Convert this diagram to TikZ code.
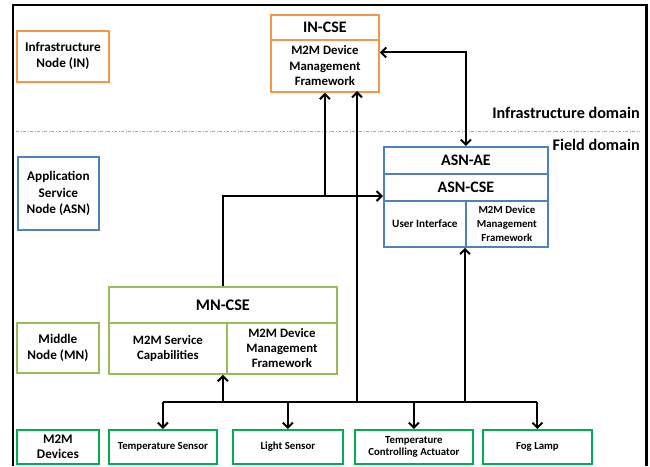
\documentclass[tikz,border=0pt]{standalone}
\usepackage{fontspec}
\setmainfont{Carlito}
\usetikzlibrary{arrows.meta,calc}
\definecolor{cOr}{HTML}{F79646}
\definecolor{cBl}{HTML}{4F81BD}
\definecolor{cLg}{HTML}{9BBB59}
\definecolor{cGr}{HTML}{00B050}
\newcommand\myfs[2]{\fontsize{#1}{#2}\selectfont}
\begin{document}
\begin{tikzpicture}[x=1pt,y=-1pt,
  bx/.style={draw, line width=1.8pt, inner sep=0pt, align=center, anchor=north west, font=\bfseries},
  conn/.style={line width=2pt, black},
  arr/.style={conn, -{Straight Barb[length=5pt,width=10pt]}},
  darr/.style={conn, {Straight Barb[length=5pt,width=10pt]}-{Straight Barb[length=5pt,width=10pt]}},
]
\useasboundingbox (0,0) rectangle (650,466);
% outer frame
\draw[line width=2.5pt] (13,466) -- (13,5) -- (646.5,5) -- (646.5,466);
% domain separator
\draw[gray!70, line width=0.7pt, dash pattern=on 3pt off 1.5pt on 1pt off 1.5pt] (16,131) -- (640,131);
\node[anchor=east, inner sep=0pt, font=\bfseries\myfs{16.2}{18}] (infdom) at (640,113) {Infrastructure domain};
\node[anchor=east, inner sep=0pt, font=\bfseries\myfs{16.2}{18}] (flddom) at (640,145) {Field domain};

% left legend boxes
\node[bx, draw=cOr, minimum width=92pt, minimum height=51pt, font=\bfseries\myfs{13.2}{16}] (lin) at (16,30) {Infrastructure\\Node (IN)};
\node[bx, draw=cBl, minimum width=81pt, minimum height=73pt, font=\bfseries\myfs{13.2}{16.3}] (lasn) at (17,156) {Application\\Service\\Node (ASN)};
\node[bx, draw=cLg, minimum width=82pt, minimum height=50pt, font=\bfseries\myfs{13.2}{16}] (lmn) at (16,322) {Middle\\Node (MN)};
\node[bx, draw=cGr, minimum width=82pt, minimum height=34pt, font=\bfseries\myfs{13.2}{15.5}] (ldev) at (16,429) {M2M\\Devices};

% IN-CSE
\node[bx, draw=cOr, minimum width=108pt, minimum height=25pt, font=\bfseries\myfs{16}{18}] (incset) at (270,14) {IN-CSE};
\node[bx, draw=cOr, minimum width=108pt, minimum height=52pt, font=\bfseries\myfs{12.8}{15.5}] (incseb) at (270,39) {M2M Device\\Management\\Framework};

% ASN
\node[bx, draw=cBl, minimum width=164pt, minimum height=27pt, font=\bfseries\myfs{16}{18}] (asnae) at (383,146) {ASN-AE};
\node[bx, draw=cBl, minimum width=164pt, minimum height=27pt, font=\bfseries\myfs{16}{18}] (asncse) at (383,173) {ASN-CSE};
\node[bx, draw=cBl, minimum width=82pt, minimum height=46pt, font=\bfseries\myfs{11.2}{14}] (asnui) at (383,200) {User Interface};
\node[bx, draw=cBl, minimum width=82pt, minimum height=46pt, font=\bfseries\myfs{10.8}{14.3}] (asnmg) at (465,200) {M2M Device\\Management\\Framework};

% MN-CSE
\node[bx, draw=cLg, minimum width=228pt, minimum height=36pt, font=\bfseries\myfs{16.2}{18}] (mnt) at (108,286) {MN-CSE};
\node[bx, draw=cLg, minimum width=118pt, minimum height=51pt, font=\bfseries\myfs{12.8}{15.5}] (mnsc) at (108,322) {M2M Service\\Capabilities};
\node[bx, draw=cLg, minimum width=110pt, minimum height=51pt, font=\bfseries\myfs{12.8}{15}] (mnmg) at (226,322) {M2M Device\\Management\\Framework};

% devices
\node[bx, draw=cGr, minimum width=108pt, minimum height=34pt, font=\bfseries\myfs{10.8}{12.7}] (ts) at (108,429) {Temperature Sensor};
\node[bx, draw=cGr, minimum width=110pt, minimum height=34pt, font=\bfseries\myfs{10.8}{12.7}] (ls) at (232,429) {Light Sensor};
\node[bx, draw=cGr, minimum width=118pt, minimum height=34pt, font=\bfseries\myfs{10.8}{12.7}] (tca) at (354,429) {Temperature\\Controlling Actuator};
\node[bx, draw=cGr, minimum width=109pt, minimum height=34pt, font=\bfseries\myfs{10.8}{12.7}] (fl) at (482,429) {Fog Lamp};

% helper coordinates
\coordinate (jy) at ($(asncse.north west)!0.8!(asncse.south west)$);
\coordinate (busy) at (0,402);
\coordinate (inr) at ($(incseb.north east)!0.25!(incseb.south east)$);
\coordinate (inb2) at (357,91);

% connectors
\draw[darr] (inr) -| (asnae.north);
\draw[arr] (mnt.north) |- (jy);
\draw[arr] (incseb.south |- jy) -- (incseb.south);
\draw[conn] (ts.north |- busy) -- (fl.north |- busy);
\draw[arr] (ts.north |- busy) -- (ts.north);
\draw[arr] (ls.north |- busy) -- (ls.north);
\draw[arr] (tca.north |- busy) -- (tca.north);
\draw[arr] (fl.north |- busy) -- (fl.north);
\draw[arr] (mnt.north |- busy) -- (mnt.north |- mnsc.south);
\draw[arr] (inb2 |- busy) -- (inb2);
\draw[arr] (asnmg.south west |- busy) -- (asnmg.south west);
\end{tikzpicture}
\end{document}
